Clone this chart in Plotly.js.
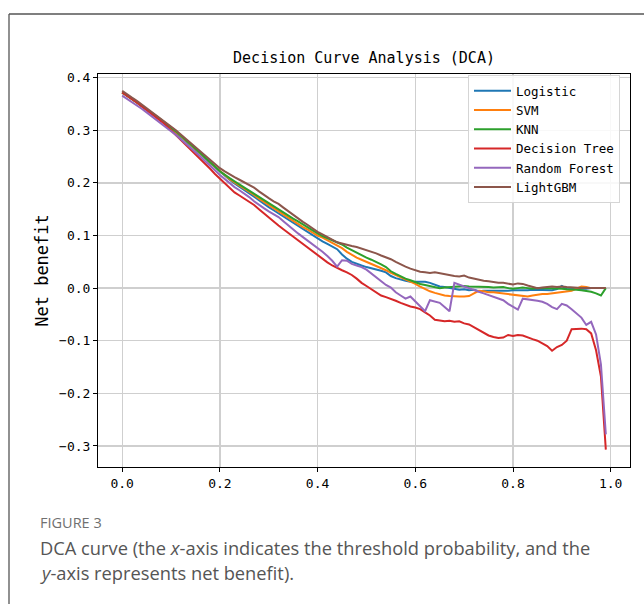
<!DOCTYPE html>
<html>
<head>
<meta charset="utf-8">
<script src="https://cdn.plot.ly/plotly-3.0.1.min.js"></script>
<style>
html,body{margin:0;padding:0;background:#fff;}
#chart{width:644px;height:604px;}
</style>
</head>
<body>
<div id="chart"></div>
<script>
var thresholds = [0.00,0.01,0.02,0.03,0.04,0.05,0.06,0.07,0.08,0.09,
  0.10,0.11,0.12,0.13,0.14,0.15,0.16,0.17,0.18,0.19,
  0.20,0.21,0.22,0.23,0.24,0.25,0.26,0.27,0.28,0.29,
  0.30,0.31,0.32,0.33,0.34,0.35,0.36,0.37,0.38,0.39,
  0.40,0.41,0.42,0.43,0.44,0.45,0.46,0.47,0.48,0.49,
  0.50,0.51,0.52,0.53,0.54,0.55,0.56,0.57,0.58,0.59,
  0.60,0.61,0.62,0.63,0.64,0.65,0.66,0.67,0.68,0.69,
  0.70,0.71,0.72,0.73,0.74,0.75,0.76,0.77,0.78,0.79,
  0.80,0.81,0.82,0.83,0.84,0.85,0.86,0.87,0.88,0.89,
  0.90,0.91,0.92,0.93,0.94,0.95,0.96,0.97,0.98,0.99];

var logistic = [.372,.366,.359,.353,.346,.339,.333,.326,.319,.312,
  .304,.296,.288,.280,.272,.264,.255,.247,.238,.230,
  .221,.213,.206,.199,.193,.187,.181,.174,.167,.160,
  .154,.148,.142,.136,.130,.124,.118,.112,.106,.100,
  .094,.089,.084,.079,.074,.064,.056,.050,.046,.043,
  .040,.038,.036,.033,.030,.023,.019,.016,.014,.012,
  .012,.013,.012,.010,.006,.003,.002,.000,-.002,-.003,
  -.002,-.004,-.003,-.006,-.005,-.005,-.006,-.005,-.006,-.005,
  -.004,-.004,-.005,-.004,-.003,-.003,-.004,-.004,-.004,-.002,
  .004,-.002,-.002,-.001,-.001,-.001,.000,.000,.000,.000];

var svm = [.372,.366,.359,.353,.346,.340,.333,.326,.319,.312,
  .305,.297,.289,.281,.273,.265,.256,.248,.239,.231,
  .222,.214,.207,.201,.195,.189,.184,.177,.170,.164,
  .158,.151,.145,.139,.133,.127,.122,.116,.111,.105,
  .100,.096,.091,.087,.082,.076,.069,.063,.058,.054,
  .050,.047,.043,.038,.034,.029,.025,.020,.016,.012,
  .008,.003,-.002,-.006,-.009,-.012,-.014,-.015,-.016,-.016,
  -.016,-.015,-.010,-.005,-.006,-.008,-.008,-.009,-.010,-.011,
  -.012,-.013,-.015,-.016,-.014,-.012,-.011,-.011,-.010,-.009,
  -.008,-.007,-.005,-.001,.003,.002,.000,.000,.000,.000];

var knn = [.372,.366,.359,.353,.346,.340,.333,.327,.320,.313,
  .306,.298,.290,.282,.274,.266,.257,.248,.240,.231,
  .222,.215,.209,.203,.197,.191,.185,.179,.173,.167,
  .161,.155,.149,.144,.138,.132,.127,.121,.115,.110,
  .104,.099,.095,.091,.088,.083,.077,.072,.067,.063,
  .058,.054,.050,.045,.040,.032,.027,.022,.018,.015,
  .011,.008,.006,.004,.002,.000,.001,.002,.003,.004,
  .004,.003,.003,.002,.002,.002,.001,.002,.002,.000,
  -.001,.000,.001,.000,-.001,.000,.000,-.001,-.001,.000,
  -.001,-.002,-.002,-.003,-.004,-.005,-.007,-.010,-.014,.000];

var decisionTree = [.372,.366,.359,.353,.346,.339,.332,.325,.317,.309,
  .300,.291,.282,.273,.264,.255,.246,.236,.227,.217,
  .208,.199,.190,.182,.176,.170,.165,.158,.150,.142,
  .134,.126,.119,.112,.105,.098,.091,.084,.077,.070,
  .062,.055,.049,.043,.038,.034,.030,.025,.018,.010,
  .004,-.002,-.008,-.014,-.017,-.020,-.024,-.028,-.032,-.035,
  -.037,-.040,-.046,-.052,-.060,-.062,-.063,-.062,-.064,-.063,
  -.067,-.069,-.074,-.080,-.085,-.090,-.093,-.095,-.094,-.089,
  -.091,-.089,-.090,-.094,-.097,-.100,-.105,-.110,-.119,-.112,
  -.108,-.100,-.078,-.077,-.077,-.078,-.086,-.118,-.168,-.307];

var randomForest = [.366,.360,.354,.347,.341,.334,.327,.320,.313,.306,
  .299,.291,.283,.275,.267,.259,.250,.241,.233,.224,
  .215,.207,.199,.192,.186,.180,.173,.165,.158,.152,
  .146,.141,.135,.127,.119,.112,.104,.097,.090,.083,
  .077,.069,.061,.052,.041,.053,.052,.046,.043,.040,
  .035,.028,.021,.013,.006,.001,-.008,-.014,-.020,-.016,
  -.025,-.035,-.044,-.023,-.025,-.028,-.036,-.044,.010,.006,
  .003,.000,-.004,-.007,-.010,-.013,-.016,-.020,-.023,-.030,
  -.036,-.041,-.020,-.021,-.023,-.024,-.026,-.030,-.036,-.040,
  -.030,-.033,-.040,-.048,-.056,-.070,-.064,-.088,-.145,-.278];

var lightGBM = [.375,.368,.362,.356,.349,.342,.336,.329,.322,.315,
  .308,.300,.292,.284,.276,.268,.260,.252,.244,.236,
  .228,.222,.216,.211,.206,.201,.197,.191,.184,.177,
  .171,.165,.160,.153,.146,.140,.133,.126,.120,.113,
  .107,.102,.097,.091,.087,.085,.082,.080,.078,.075,
  .072,.070,.066,.062,.059,.055,.050,.045,.041,.037,
  .034,.031,.030,.029,.030,.028,.027,.025,.023,.022,
  .024,.020,.018,.015,.014,.013,.011,.010,.010,.008,
  .007,.009,.008,.005,.002,.000,.001,.002,.003,.002,
  .003,.002,.001,.001,.000,.000,.000,.000,.000,.000];

var modelNames = ["Logistic","SVM","KNN","Decision Tree","Random Forest","LightGBM"];
var modelValues = [logistic, svm, knn, decisionTree, randomForest, lightGBM];
var modelColors = ["#1f77b4","#ff7f0e","#2ca02c","#d62728","#9467bd","#8c564b"];
var xTickVals = [0.0,0.2,0.4,0.6,0.8,1.0];
var yTickVals = [-0.3,-0.2,-0.1,0.0,0.1,0.2,0.3,0.4];

var chartTitle = "Decision Curve Analysis (DCA)";
var yTitle = "Net benefit";
var figLabel = "FIGURE 3";
var captionLine1 = "DCA curve (the <i>x</i>-axis indicates the threshold probability, and the";
var captionLine2 = "<i>y</i>-axis represents net benefit).";

var mono = "DejaVu Sans Mono, monospace";
var cap = "Open Sans, sans-serif";

var traces = modelNames.map(function(n, i){
  return {x: thresholds, y: modelValues[i], type: "scatter", mode: "lines", name: n,
    line: {color: modelColors[i], width: 2}};
});

var L = 98, T = 74, W = 532, H = 393;
function px2x(p){ return (p - L) / W; }
function px2y(p){ return (T + H - p) / H; }

var layout = {
  width: 644, height: 604,
  paper_bgcolor: "#ffffff", plot_bgcolor: "#ffffff",
  margin: {l: L, r: 644 - L - W, t: T, b: 604 - T - H, pad: 0},
  title: {text: chartTitle, font: {family: mono, size: 15, color: "#000"},
    xref: "paper", x: 0.5, xanchor: "center", yref: "container", y: 1 - 58/604, yanchor: "middle"},
  showlegend: true,
  legend: {x: px2x(620), xanchor: "right", y: px2y(75), yanchor: "top",
    bgcolor: "rgba(255,255,255,0.85)", bordercolor: "#d5d5d5", borderwidth: 1,
    font: {family: mono, size: 12.5, color: "#000"}, itemwidth: 37},
  xaxis: {range: [-0.0495, 1.0395], tickvals: xTickVals, tickformat: ".1f",
    ticks: "outside", ticklen: 4, tickwidth: 1, tickcolor: "#000",
    showline: true, linecolor: "#000", linewidth: 1, mirror: true,
    showgrid: true, gridcolor: "#cfcfcf", gridwidth: 1.3, zeroline: false,
    tickfont: {family: mono, size: 13, color: "#000"}},
  yaxis: {range: [-0.340, 0.407], tickvals: yTickVals, tickformat: ".1f",
    ticks: "outside", ticklen: 4, tickwidth: 1, tickcolor: "#000",
    showline: true, linecolor: "#000", linewidth: 1, mirror: true,
    showgrid: true, gridcolor: "#cfcfcf", gridwidth: 1.3, zeroline: false,
    tickfont: {family: mono, size: 13, color: "#000"},
    title: {text: yTitle, font: {family: mono, size: 17, color: "#000"}, standoff: 6}},
  shapes: [
    {type: "line", xref: "paper", yref: "paper", x0: px2x(9), x1: px2x(9), y0: px2y(14), y1: px2y(620),
      line: {color: "#555", width: 1.3}},
    {type: "line", xref: "paper", yref: "paper", x0: px2x(9), x1: px2x(660), y0: px2y(14), y1: px2y(14),
      line: {color: "#555", width: 1.3}}
  ],
  annotations: [
    {text: figLabel, xref: "paper", yref: "paper", x: px2x(38), y: px2y(522), xanchor: "left", yanchor: "middle",
      showarrow: false, font: {family: cap, size: 14.5, color: "#707070"}},
    {text: captionLine1, xref: "paper", yref: "paper", x: px2x(38), y: px2y(547), xanchor: "left", yanchor: "middle",
      showarrow: false, font: {family: cap, size: 18.3, color: "#555"}},
    {text: captionLine2, xref: "paper", yref: "paper", x: px2x(38), y: px2y(572), xanchor: "left", yanchor: "middle",
      showarrow: false, font: {family: cap, size: 18.3, color: "#555"}}
  ]
};

Plotly.newPlot("chart", traces, layout, {displayModeBar: false, staticPlot: true});
</script>
</body>
</html>
